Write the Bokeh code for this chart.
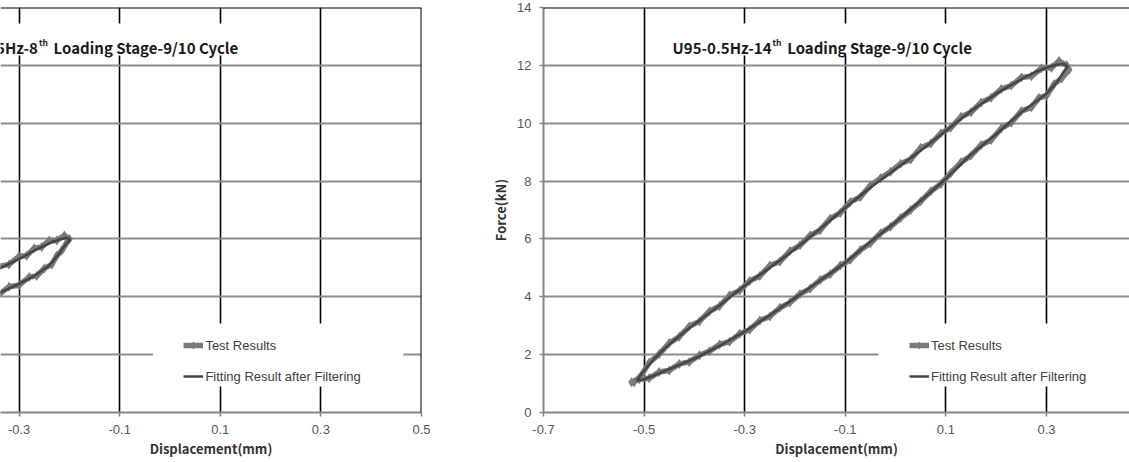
from bokeh.plotting import figure
from bokeh.layouts import row
from bokeh.models import FixedTicker, Grid, Span, Legend, LegendItem, Title
from bokeh.core.properties import value
from bokeh.embed import file_html
from bokeh.resources import INLINE

# ---------------- data ----------------
X_TICKS = [-0.7, -0.5, -0.3, -0.1, 0.1, 0.3, 0.5]
X_TICK_LABELS = ["-0.7", "-0.5", "-0.3", "-0.1", "0.1", "0.3", "0.5"]
Y_TICKS = [0, 2, 4, 6, 8, 10, 12, 14]
Y_TICK_LABELS = ["0", "2", "4", "6", "8", "10", "12", "14"]
X_LABEL = "Displacement(mm)"
Y_LABEL = "Force(kN)"
SERIES = ["Test Results", "Fitting Result after Filtering"]

TITLE_8 = ["U95-0.5Hz-8", "th", "Loading Stage-9/10 Cycle"]
TITLE_14 = ["U95-0.5Hz-14", "th", "Loading Stage-9/10 Cycle"]

# 8th loading stage (left panel)
test8_x = [-0.63, -0.60, -0.57, -0.54, -0.51, -0.48, -0.45, -0.42, -0.40, -0.38,
           -0.36, -0.34, -0.32, -0.30, -0.285, -0.27, -0.255, -0.24, -0.225, -0.21, -0.20,
           -0.205, -0.215, -0.225, -0.235, -0.25, -0.265, -0.28, -0.30, -0.32, -0.34,
           -0.36, -0.38, -0.40, -0.42, -0.45, -0.48, -0.51, -0.54, -0.57, -0.60, -0.63]
test8_y = [0.95, 1.42, 1.98, 2.45, 2.85, 3.40, 3.75, 4.22, 4.35, 4.68,
           4.75, 5.05, 5.12, 5.40, 5.42, 5.68, 5.72, 5.95, 5.95, 6.12, 6.00,
           5.88, 5.60, 5.42, 5.12, 4.98, 4.72, 4.68, 4.40, 4.35, 4.08,
           3.98, 3.70, 3.55, 3.20, 2.85, 2.45, 2.00, 1.75, 1.35, 1.15, 0.95]
fit8_x = [-0.62, -0.58, -0.54, -0.50, -0.46, -0.42, -0.38, -0.34, -0.30, -0.27,
          -0.24, -0.22, -0.205, -0.198, -0.21, -0.22, -0.24, -0.27, -0.30, -0.34,
          -0.38, -0.42, -0.46, -0.50, -0.54, -0.58, -0.62]
fit8_y = [1.00, 1.70, 2.40, 3.05, 3.65, 4.15, 4.60, 4.97, 5.30, 5.60,
          5.85, 5.98, 6.04, 5.98, 5.75, 5.50, 5.08, 4.72, 4.45, 4.13,
          3.75, 3.25, 2.70, 2.15, 1.70, 1.30, 1.00]

# 14th loading stage (right panel)
test14_x = [-0.52, -0.505, -0.49, -0.47, -0.45, -0.43, -0.41, -0.39, -0.37, -0.35,
            -0.33, -0.31, -0.29, -0.27, -0.25, -0.23, -0.21, -0.19, -0.17, -0.15,
            -0.13, -0.11, -0.09, -0.07, -0.05, -0.03, -0.01, 0.01, 0.03, 0.05,
            0.07, 0.09, 0.11, 0.13, 0.15, 0.17, 0.19, 0.21, 0.23, 0.25,
            0.27, 0.29, 0.31, 0.325, 0.34,
            0.345, 0.33, 0.315, 0.30, 0.285, 0.27, 0.25, 0.23, 0.21, 0.19,
            0.17, 0.15, 0.13, 0.11, 0.09, 0.07, 0.05, 0.03, 0.01, -0.01,
            -0.03, -0.05, -0.07, -0.09, -0.11, -0.13, -0.15, -0.17, -0.19, -0.21,
            -0.23, -0.25, -0.27, -0.29, -0.31, -0.33, -0.35, -0.37, -0.39, -0.41,
            -0.43, -0.45, -0.47, -0.49, -0.51, -0.525]
test14_y = [1.05, 1.30, 1.72, 2.02, 2.40, 2.62, 2.98, 3.15, 3.50, 3.68,
            4.05, 4.22, 4.55, 4.72, 5.08, 5.22, 5.58, 5.78, 6.12, 6.30,
            6.70, 6.90, 7.28, 7.45, 7.85, 8.10, 8.32, 8.60, 8.75, 9.15,
            9.30, 9.65, 9.85, 10.22, 10.38, 10.72, 10.88, 11.18, 11.30, 11.58,
            11.62, 11.90, 11.92, 12.15, 12.00,
            11.85, 11.55, 11.35, 10.95, 10.88, 10.55, 10.42, 10.02, 9.82, 9.42,
            9.25, 8.88, 8.65, 8.28, 7.90, 7.65, 7.30, 7.00, 6.72, 6.42,
            6.20, 5.85, 5.62, 5.28, 5.08, 4.78, 4.58, 4.28, 4.10, 3.80,
            3.62, 3.32, 3.18, 2.86, 2.72, 2.45, 2.35, 2.12, 1.98, 1.75,
            1.68, 1.45, 1.40, 1.18, 1.15, 1.05]
fit14_x = [-0.515, -0.50, -0.48, -0.46, -0.44, -0.42, -0.40, -0.375, -0.35, -0.325,
           -0.30, -0.275, -0.25, -0.225, -0.20, -0.15, -0.10, -0.05, 0.00, 0.05,
           0.10, 0.15, 0.20, 0.25, 0.28, 0.30, 0.32, 0.335, 0.342, 0.335,
           0.32, 0.30, 0.275, 0.25, 0.225, 0.20, 0.15, 0.10, 0.05, 0.00,
           -0.05, -0.10, -0.15, -0.20, -0.25, -0.30, -0.35, -0.40, -0.45, -0.48,
           -0.50, -0.515]
fit14_y = [1.10, 1.45, 1.85, 2.20, 2.50, 2.78, 3.05, 3.38, 3.70, 4.05,
           4.38, 4.70, 5.00, 5.32, 5.65, 6.35, 7.08, 7.78, 8.42, 9.06,
           9.74, 10.42, 11.02, 11.52, 11.78, 11.92, 12.02, 12.05, 11.95, 11.80,
           11.40, 11.02, 10.70, 10.38, 10.00, 9.62, 8.92, 8.08, 7.32, 6.58,
           5.90, 5.18, 4.56, 3.96, 3.36, 2.80, 2.30, 1.86, 1.50, 1.28,
           1.15, 1.10]

# ---------------- layout / style ----------------
H = 462
PX_X = 503.0          # pixels per mm
PX_Y = 405.0 / 14.0   # pixels per kN
TICK_FONT = "Liberation Sans"
BOLD_FONT = "Noto Sans CJK KR"
AXIS_GRAY = "#868686"
GRID_GRAY = "#8c8c8c"
TEST_COLOR = "#7a7a7a"
FIT_COLOR = "#454545"


def make_panel(width, min_left, min_right, x_start, show_y, title, shift_px, tx, ty, fx, fy):
    x_end = x_start + (width - min_left - min_right) / PX_X
    p = figure(width=width, height=H, x_range=(x_start, x_end), y_range=(0, 14),
               output_backend="svg", toolbar_location=None,
               y_axis_location="left" if show_y else None,
               min_border_left=min_left, min_border_right=min_right,
               min_border_top=7, min_border_bottom=50)
    p.outline_line_color = None
    p.background_fill_color = "white"
    p.border_fill_color = "white"

    xa = p.xaxis[0]
    xa.ticker = FixedTicker(ticks=X_TICKS)
    xa.major_label_overrides = dict(zip(X_TICKS, X_TICK_LABELS))
    p.xgrid.visible = False
    axes = [xa]
    if show_y:
        ya = p.yaxis[0]
        ya.ticker = FixedTicker(ticks=Y_TICKS)
        ya.major_label_overrides = dict(zip(Y_TICKS, Y_TICK_LABELS))
        ya.axis_label = Y_LABEL
        ya.axis_label_text_font = BOLD_FONT
        ya.axis_label_text_font_style = "bold"
        ya.axis_label_text_font_size = "13px"
        ya.axis_label_text_color = "#333333"
        ya.axis_label_standoff = 4
        p.ygrid.visible = False
        axes.append(ya)
    for a in axes:
        a.axis_line_color = AXIS_GRAY
        a.axis_line_width = 2
        a.major_tick_line_color = AXIS_GRAY
        a.major_tick_line_width = 1.5
        a.major_tick_out = 4
        a.major_tick_in = 0
        a.minor_tick_line_color = None
        a.major_label_text_font = TICK_FONT
        a.major_label_text_font_size = "13px"
        a.major_label_text_color = "#555555"
        a.major_label_standoff = 8

    p.add_layout(Grid(dimension=0, ticker=FixedTicker(ticks=[t for t in X_TICKS if x_start + 0.01 < t < x_end - 0.01]),
                      grid_line_color="black", grid_line_width=1.6))
    p.add_layout(Grid(dimension=1, ticker=FixedTicker(ticks=Y_TICKS[1:-1]),
                      grid_line_color=GRID_GRAY, grid_line_width=1.8))

    dx = shift_px / PX_X
    # white boxes behind title and legend (they hide the gridlines)
    p.quad(left=[-0.4614 + dx], right=[0.1628 + dx], bottom=[12.34], top=[13.447],
           fill_color="white", line_color=None)
    p.quad(left=[-0.034], right=[0.464], bottom=[0.90], top=[3.08],
           fill_color="white", line_color=None)

    r_tl = p.line(tx, ty, line_color=TEST_COLOR, line_width=5.5)
    r_ts = p.scatter(tx, ty, marker="diamond", size=10, fill_color=TEST_COLOR, line_color=None)
    r_fit = p.line(fx, fy, line_color=FIT_COLOR, line_width=2.5)

    yb = 14 - 39.5 / PX_Y
    ys = 14 - 34.0 / PX_Y
    p.text(x=[-0.2467 + dx], y=[yb], text=[title[0]], text_align="right", text_baseline="alphabetic",
           text_font=value(BOLD_FONT), text_font_style="bold", text_font_size="15px", text_color="#1a1a1a")
    p.text(x=[-0.2447 + dx], y=[ys], text=[title[1]], text_align="left", text_baseline="alphabetic",
           text_font=value(BOLD_FONT), text_font_style="bold", text_font_size="8.5px", text_color="#1a1a1a")
    p.text(x=[-0.2155 + dx], y=[yb], text=[title[2]], text_align="left", text_baseline="alphabetic",
           text_font=value(BOLD_FONT), text_font_style="bold", text_font_size="15px", text_color="#1a1a1a")

    # x-axis label as a "below" title, centred on x = -0.1 of the full chart
    frame_px = width - min_left - min_right
    center_px = (-0.1 - x_start) * PX_X
    p.add_layout(Title(text=X_LABEL, align="center", offset=center_px - frame_px / 2,
                       text_font=BOLD_FONT, text_font_style="bold", text_font_size="13px",
                       text_color="#333333", standoff=0), "below")

    p.add_layout(Span(location=14, dimension="width", line_color="black", line_width=2))
    if x_end >= 0.5 - 1e-6:
        p.add_layout(Span(location=0.5, dimension="height", line_color="black", line_width=2))

    legend = Legend(items=[LegendItem(label=SERIES[0], renderers=[r_tl, r_ts]),
                           LegendItem(label=SERIES[1], renderers=[r_fit])],
                    location=((-0.034 - x_start) * PX_X + 37 - 6, 26),
                    padding=6, margin=0, spacing=11, label_height=20, glyph_height=20, glyph_width=20,
                    label_standoff=2, background_fill_alpha=0, border_line_color=None,
                    label_text_font=TICK_FONT, label_text_font_size="13px", label_text_color="#404040")
    p.add_layout(legend)
    return p


left = make_panel(430, 0, 9, 0.5 - 421 / PX_X, False, TITLE_8, -8,
                  test8_x, test8_y, fit8_x, fit8_y)
right = make_panel(699, 113, 0, -0.7, True, TITLE_14, 0,
                   test14_x, test14_y, fit14_x, fit14_y)

layout = row(left, right)
open("out.html", "w").write(file_html(layout, INLINE))
